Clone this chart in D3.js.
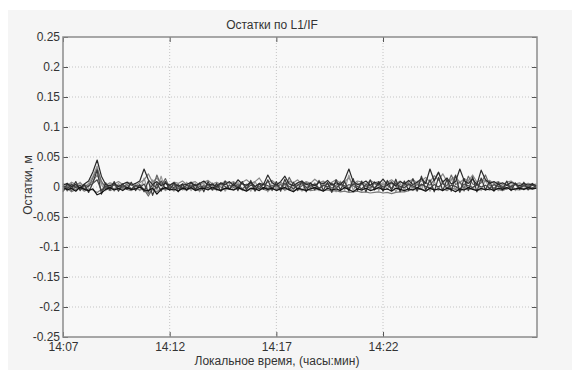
<!DOCTYPE html>
<html><head><meta charset="utf-8">
<script src="https://cdn.jsdelivr.net/npm/d3@7"></script>
<style>html,body{margin:0;padding:0;background:#fff;}svg{display:block;font-family:"Liberation Sans",Arial,sans-serif;}</style>
</head><body>
<svg id="c" width="572" height="370"></svg>
<script>
// ---- data ----
const title = "Остатки по L1/IF";
const xLabel = "Локальное время, (часы:мин)";
const yLabel = "Остатки, м";
const startTime = new Date(2000,0,1,14,7,0);
const endTime = new Date(2000,0,1,14,29,13);
const stepSeconds = 12;
const xTickTimes = [[14,7],[14,12],[14,17],[14,22]];
const yTickValues = [0.25,0.2,0.15,0.1,0.05,0,-0.05,-0.1,-0.15,-0.2,-0.25];
const yTickLabels = ["0.25","0.2","0.15","0.1","0.05","0","-0.05","-0.1","-0.15","-0.2","-0.25"];

const s1 = [0.003,0.006,0.001,0.004,-0.002,0.005,0.010,0.025,0.045,0.018,
0.004,0.002,0.006,0.001,0.005,0.008,0.003,0.006,0.010,0.030,
0.012,0.004,0.009,0.002,0.006,0.003,0.007,0.001,0.005,0.004,
0.008,0.002,0.006,0.010,0.003,0.005,0.001,0.007,0.004,0.009,
0.002,0.012,0.005,0.003,0.008,0.001,0.006,0.004,0.020,0.007,
0.003,0.009,0.018,0.005,0.002,0.007,0.010,0.004,0.006,0.002,
0.008,0.005,0.011,0.003,0.007,0.004,0.012,0.030,0.009,0.004,
0.006,0.010,0.003,0.008,0.005,0.013,0.004,0.007,0.002,0.009,
0.005,0.011,0.004,0.008,0.014,0.006,0.030,0.010,0.024,0.008,
0.015,0.005,0.009,0.030,0.011,0.006,0.013,0.004,0.028,0.012,
0.006,0.009,0.004,0.007,0.003,0.008,0.005,0.002,0.006,0.003,
0.005,0.002];
const s2 = [-0.004,0.002,-0.006,0.001,-0.003,0.004,0.000,0.015,0.030,0.010,
-0.002,0.003,-0.004,0.002,-0.001,0.004,-0.003,0.001,0.003,-0.004,
-0.015,-0.003,0.020,0.002,0.014,-0.002,0.004,-0.003,0.002,-0.001,
0.003,-0.004,0.001,-0.002,0.005,-0.003,0.002,0.000,-0.004,0.003,
-0.001,0.004,-0.003,0.002,0.006,-0.002,0.001,0.005,-0.003,0.003,
0.000,0.004,-0.002,0.016,0.003,-0.004,0.002,0.007,-0.001,0.004,
-0.003,0.002,0.005,-0.002,0.003,0.008,-0.001,0.004,0.002,-0.003,
0.005,0.001,-0.002,0.006,0.002,-0.003,0.004,0.009,0.001,-0.002,
0.003,0.006,-0.001,0.004,0.002,0.007,0.003,0.012,0.025,0.006,
0.002,0.020,0.004,0.008,-0.002,0.018,0.005,0.002,0.007,0.020,
0.003,-0.002,0.004,0.001,-0.003,0.002,0.004,-0.001,0.003,0.000,
-0.002,0.001];
const s3 = [0.001,-0.005,-0.002,-0.007,0.000,-0.004,-0.006,-0.003,-0.013,-0.010,
-0.004,-0.001,-0.005,-0.002,-0.006,-0.001,-0.004,-0.003,0.000,-0.005,
-0.006,-0.002,-0.012,-0.004,-0.001,-0.005,-0.003,-0.007,-0.002,-0.004,
-0.001,-0.006,-0.003,-0.002,-0.005,0.000,-0.004,-0.006,-0.002,-0.003,
-0.005,-0.001,-0.004,-0.007,-0.002,-0.003,-0.006,-0.001,-0.004,-0.002,
-0.006,-0.003,-0.001,-0.005,-0.008,-0.002,-0.004,-0.006,-0.003,-0.001,
-0.004,-0.007,-0.002,-0.005,-0.003,-0.006,-0.001,-0.004,-0.008,-0.003,
-0.005,-0.002,-0.006,-0.004,-0.001,-0.005,-0.003,-0.007,-0.002,-0.004,
-0.006,-0.003,-0.005,-0.001,-0.004,-0.007,-0.002,-0.005,-0.003,-0.006,
-0.002,-0.004,-0.008,-0.003,-0.005,-0.001,-0.004,-0.006,-0.002,-0.005,
-0.003,-0.006,-0.002,-0.004,-0.001,-0.005,-0.003,-0.002,-0.004,-0.001,
-0.003,-0.002];
const s4 = [0.006,0.002,0.008,0.004,0.007,0.001,0.005,0.009,0.020,0.006,
0.003,0.007,0.005,0.009,0.004,0.008,0.006,0.002,0.007,0.012,
0.022,0.008,0.015,0.005,0.009,0.003,0.008,0.006,0.010,0.004,
0.007,0.009,0.003,0.008,0.011,0.005,0.008,0.004,0.010,0.006,
0.009,0.003,0.008,0.012,0.006,0.009,0.015,0.004,0.008,0.011,
0.005,0.008,0.003,0.010,0.007,0.012,0.004,0.009,0.006,0.013,
0.007,0.010,0.004,0.008,0.012,0.006,0.009,0.015,0.005,0.010,
0.008,0.004,0.011,0.007,0.009,0.003,0.008,0.012,0.006,0.010,
0.004,0.009,0.013,0.006,0.010,0.016,0.008,0.019,0.011,0.022,
0.009,0.012,0.018,0.007,0.014,0.010,0.020,0.008,0.012,0.009,
0.011,0.006,0.009,0.004,0.008,0.010,0.005,0.007,0.003,0.006,
0.004,0.005];
const s5 = [0.002,-0.003,0.005,-0.001,0.003,-0.004,0.002,0.006,0.012,-0.006,
0.001,-0.002,0.004,-0.003,0.002,0.000,-0.004,0.003,-0.001,0.005,
-0.008,0.004,-0.002,0.010,-0.003,0.002,-0.001,0.004,-0.002,0.003,
0.000,0.005,-0.003,0.002,-0.001,0.004,-0.002,0.006,0.001,-0.003,
0.004,0.000,0.007,-0.002,0.003,0.001,-0.003,0.005,0.002,-0.001,
0.004,-0.002,0.006,0.001,-0.003,0.003,0.008,-0.001,0.002,0.005,
-0.002,0.003,0.000,0.006,-0.001,0.004,0.002,-0.002,0.005,0.001,
-0.003,0.004,0.002,-0.001,0.005,0.000,0.003,-0.002,0.006,0.001,
-0.001,0.004,0.002,-0.003,0.005,0.001,-0.002,0.004,0.000,0.006,
-0.002,0.003,0.001,-0.004,0.005,0.002,-0.001,0.004,0.000,0.003,
-0.002,0.004,0.001,-0.001,0.003,0.000,0.005,-0.002,0.002,0.000,
0.003,-0.001];
const s6 = [-0.006,-0.002,-0.008,-0.004,-0.001,-0.007,-0.003,-0.005,-0.009,-0.004,
-0.002,-0.006,-0.003,-0.005,-0.001,-0.004,-0.006,-0.002,-0.005,-0.003,
-0.011,-0.004,-0.008,-0.002,-0.005,-0.003,-0.006,-0.001,-0.004,-0.005,
-0.002,-0.004,-0.006,-0.003,-0.001,-0.005,-0.003,-0.006,-0.002,-0.004,
-0.005,-0.002,-0.004,-0.006,-0.003,-0.005,-0.002,-0.004,-0.006,-0.003,
-0.004,-0.002,-0.005,-0.003,-0.006,-0.004,-0.005,-0.003,-0.006,-0.005,
-0.004,-0.006,-0.005,-0.007,-0.006,-0.008,-0.007,-0.009,-0.008,-0.007,
-0.009,-0.008,-0.010,-0.009,-0.008,-0.010,-0.009,-0.011,-0.009,-0.008,
-0.008,-0.006,-0.004,-0.005,-0.003,-0.006,-0.002,-0.004,-0.005,-0.003,
-0.006,-0.002,-0.004,-0.007,-0.003,-0.005,-0.002,-0.006,-0.004,-0.003,
-0.005,-0.002,-0.004,-0.006,-0.003,-0.001,-0.004,-0.005,-0.002,-0.004,
-0.003,-0.002];
const s7 = [-0.008,0.006,-0.003,0.009,-0.006,0.004,-0.009,0.007,0.028,-0.012,
0.007,-0.005,0.009,-0.007,0.005,-0.004,0.008,-0.006,0.004,-0.008,
0.010,-0.014,0.006,-0.007,0.009,-0.005,0.007,-0.008,0.005,-0.006,
0.008,-0.004,0.007,-0.008,0.009,-0.005,0.006,-0.007,0.010,-0.004,
0.007,-0.006,0.009,-0.005,0.011,-0.007,0.006,-0.004,0.012,-0.006,
0.009,-0.007,0.013,-0.005,0.008,-0.006,0.010,-0.008,0.007,-0.005,
0.011,-0.006,0.008,-0.009,0.012,-0.005,0.009,-0.007,0.014,-0.006,
0.010,-0.008,0.012,-0.005,0.009,-0.007,0.011,-0.006,0.013,-0.008,
0.010,-0.006,0.014,-0.007,0.018,-0.005,0.012,-0.008,0.016,-0.006,
0.013,-0.007,0.020,-0.009,0.014,-0.006,0.017,-0.008,0.015,-0.005,
0.009,-0.007,0.008,-0.005,0.010,-0.006,0.007,-0.004,0.008,-0.005,
0.006,-0.003];
const s8 = [0.005,-0.007,0.003,-0.005,0.008,-0.003,0.006,0.018,0.035,0.004,
-0.006,0.004,-0.007,0.006,-0.004,0.007,-0.005,0.003,-0.006,0.015,
-0.009,0.012,-0.005,0.018,-0.006,0.005,-0.007,0.004,-0.005,0.008,
-0.006,0.004,-0.008,0.006,-0.004,0.007,-0.006,0.005,-0.007,0.004,
-0.005,0.008,-0.006,0.005,-0.007,0.009,-0.004,0.006,-0.008,0.010,
-0.005,0.007,-0.006,0.009,-0.004,0.006,-0.007,0.008,-0.005,0.007,
-0.006,0.009,-0.004,0.007,-0.008,0.010,-0.005,0.020,-0.006,0.008,
-0.007,0.006,-0.005,0.009,-0.006,0.008,-0.004,0.007,-0.008,0.006,
-0.005,0.008,-0.006,0.010,-0.004,0.012,-0.007,0.009,-0.005,0.011,
-0.006,0.014,-0.005,0.010,-0.007,0.012,-0.004,0.009,-0.006,0.013,
-0.005,0.007,-0.006,0.005,-0.004,0.008,-0.006,0.004,-0.005,0.006,
-0.004,0.003];
const seriesList = [s8, s6, s4, s2, s7, s5, s1, s3];
const seriesColors = ["#9a9a9a","#7a7a7a","#888","#666","#3a3a3a","#444","#2a2a2a","#111"];

// ---- drawing ----
const svg = d3.select("#c");
const M = {left:63, top:37, right:537, bottom:337};
svg.append("rect").attr("x",8).attr("y",10).attr("width",564).attr("height",360).attr("fill","#f5f5f5");
svg.append("rect").attr("x",M.left).attr("y",M.top).attr("width",M.right-M.left).attr("height",M.bottom-M.top).attr("fill","#f8f8f8");

const x = d3.scaleTime().domain([startTime,endTime]).range([M.left,M.right]);
const y = d3.scaleLinear().domain([-0.25,0.25]).range([M.bottom,M.top]);
const xTicks = xTickTimes.map(d=>new Date(2000,0,1,d[0],d[1],0));
const fmt = d3.timeFormat("%H:%M");

// grid
const g = svg.append("g");
g.selectAll("line.gy").data(yTickValues.filter(v=>Math.abs(v)<0.25)).join("line")
 .attr("x1",M.left).attr("x2",M.right).attr("y1",d=>y(d)).attr("y2",d=>y(d))
 .attr("stroke","#c4c4c4").attr("stroke-width",1).attr("stroke-dasharray","1,2");
g.selectAll("line.gx").data(xTicks.slice(1)).join("line")
 .attr("x1",d=>x(d)).attr("x2",d=>x(d)).attr("y1",M.top).attr("y2",M.bottom)
 .attr("stroke","#c4c4c4").attr("stroke-width",1).attr("stroke-dasharray","1,2");

// data lines
const line = d3.line().x((d,i)=>x(new Date(startTime.getTime()+i*stepSeconds*1000))).y(d=>y(d));
const plot = svg.append("g");
seriesList.forEach((s,k)=>{
  plot.append("path").attr("d",line(s)).attr("fill","none")
   .attr("stroke",seriesColors[k]).attr("stroke-width",1.2).attr("stroke-linejoin","round");
});

// axes (inward ticks)
const axL = d3.axisLeft(y).tickValues(yTickValues).tickSize(-5).tickPadding(3).tickFormat((d,i)=>yTickLabels[i]);
const axR = d3.axisRight(y).tickValues(yTickValues).tickSize(-5).tickFormat("");
const axB = d3.axisBottom(x).tickValues(xTicks).tickSize(-5).tickPadding(5).tickFormat(fmt);
const axT = d3.axisTop(x).tickValues(xTicks).tickSize(-5).tickFormat("");
function style(sel){
  sel.select(".domain").remove();
  sel.selectAll(".tick line").attr("stroke","#555");
  sel.selectAll("text").attr("fill","#333").style("font-size","12px").style("font-family","'Liberation Sans',Arial,sans-serif");
}
svg.append("g").attr("transform",`translate(${M.left},0)`).call(axL).call(style);
svg.append("g").attr("transform",`translate(${M.right},0)`).call(axR).call(style);
svg.append("g").attr("transform",`translate(0,${M.bottom})`).call(axB).call(style);
svg.append("g").attr("transform",`translate(0,${M.top})`).call(axT).call(style);

// frame
svg.append("rect").attr("x",M.left).attr("y",M.top).attr("width",M.right-M.left).attr("height",M.bottom-M.top)
 .attr("fill","none").attr("stroke","#8c8c8c").attr("stroke-width",1.5);

// labels
svg.append("text").attr("x",272).attr("y",29).attr("text-anchor","middle").attr("fill","#333")
 .style("font-size","12px").text(title);
svg.append("text").attr("x",277).attr("y",365).attr("text-anchor","middle").attr("fill","#333")
 .style("font-size","12px").text(xLabel);
svg.append("text").attr("transform","translate(32,185) rotate(-90)").attr("text-anchor","middle").attr("fill","#333")
 .style("font-size","12px").text(yLabel);
</script>
</body></html>
